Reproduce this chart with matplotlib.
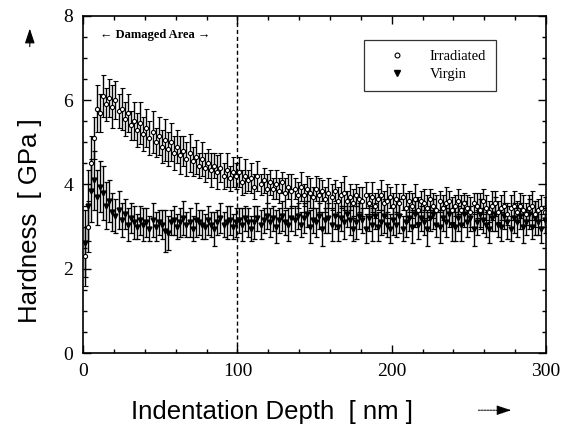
import matplotlib.pyplot as plt
import numpy as np
from matplotlib.lines import Line2D
from matplotlib.patches import FancyArrowPatch
from matplotlib.ticker import MultipleLocator

# indentation depth [nm], one point every 2 nm
depth = np.arange(1, 300, 2)

irradiated = [
    2.3, 3.0, 4.5, 5.1, 5.8, 5.7, 6.1, 5.9, 6.05, 5.85,
    6.0, 5.75, 5.8, 5.55, 5.7, 5.4, 5.5, 5.3, 5.45, 5.2,
    5.35, 5.1, 5.25, 5.0, 5.15, 4.9, 5.05, 4.85, 5.0, 4.75,
    4.9, 4.7, 4.8, 4.6, 4.75, 4.55, 4.65, 4.45, 4.6, 4.4,
    4.5, 4.35, 4.45, 4.3, 4.4, 4.2, 4.35, 4.15, 4.3, 4.2,
    4.3, 4.05, 4.2, 4.1, 4.15, 3.95, 4.2, 4.0, 4.1, 3.9,
    4.05, 3.9, 4.0, 3.85, 4.05, 3.8, 3.95, 3.85, 3.9, 3.75,
    3.95, 3.75, 3.9, 3.8, 3.7, 3.9, 3.75, 3.85, 3.65, 3.8,
    3.7, 3.85, 3.6, 3.75, 3.8, 3.6, 3.7, 3.55, 3.75, 3.65,
    3.6, 3.75, 3.55, 3.7, 3.5, 3.65, 3.75, 3.55, 3.6, 3.7,
    3.5, 3.65, 3.55, 3.7, 3.45, 3.6, 3.5, 3.65, 3.4, 3.6,
    3.55, 3.45, 3.65, 3.5, 3.4, 3.6, 3.45, 3.55, 3.6, 3.4,
    3.5, 3.6, 3.4, 3.55, 3.45, 3.35, 3.55, 3.5, 3.4, 3.6,
    3.45, 3.35, 3.5, 3.55, 3.35, 3.45, 3.5, 3.3, 3.45, 3.5,
    3.35, 3.5, 3.4, 3.3, 3.45, 3.5, 3.3, 3.4, 3.45, 3.35,
]
irradiated_err = [
    0.7, 0.6, 0.65, 0.5, 0.55, 0.45, 0.5, 0.4, 0.45, 0.5,
    0.45, 0.4, 0.5, 0.4, 0.45, 0.35, 0.45, 0.4, 0.5, 0.4,
    0.45, 0.4, 0.5, 0.35, 0.45, 0.4, 0.5, 0.4, 0.45, 0.4,
    0.4, 0.45, 0.35, 0.4, 0.45, 0.35, 0.4, 0.3, 0.4, 0.35,
    0.35, 0.4, 0.3, 0.4, 0.35, 0.3, 0.4, 0.3, 0.35, 0.3,
    0.35, 0.3, 0.4, 0.25, 0.35, 0.3, 0.35, 0.25, 0.3, 0.35,
    0.3, 0.25, 0.35, 0.3, 0.25, 0.35, 0.3, 0.4, 0.25, 0.3,
    0.35, 0.25, 0.3, 0.35, 0.25, 0.3, 0.4, 0.25, 0.3, 0.35,
    0.3, 0.25, 0.35, 0.3, 0.4, 0.25, 0.3, 0.35, 0.25, 0.3,
    0.35, 0.3, 0.25, 0.35, 0.3, 0.25, 0.35, 0.3, 0.4, 0.25,
    0.3, 0.35, 0.25, 0.3, 0.35, 0.25, 0.3, 0.35, 0.3, 0.25,
    0.35, 0.3, 0.25, 0.3, 0.35, 0.25, 0.3, 0.4, 0.25, 0.3,
    0.25, 0.3, 0.35, 0.25, 0.3, 0.35, 0.25, 0.3, 0.4, 0.3,
    0.3, 0.25, 0.35, 0.3, 0.25, 0.3, 0.35, 0.25, 0.3, 0.35,
    0.25, 0.3, 0.35, 0.25, 0.3, 0.35, 0.3, 0.25, 0.3, 0.35,
]

virgin = [
    2.6, 3.5, 3.85, 4.1, 3.7, 3.95, 3.8, 3.5, 3.6, 3.35,
    3.25, 3.4, 3.15, 3.3, 3.05, 3.2, 3.1, 3.0, 3.15, 3.05,
    3.1, 2.95, 3.15, 3.0, 3.1, 3.05, 2.9, 2.85, 3.1, 3.15,
    3.0, 3.1, 3.2, 3.05, 3.1, 2.95, 3.15, 3.1, 3.05, 3.0,
    3.15, 3.05, 2.95, 3.1, 3.2, 3.05, 3.1, 3.15, 3.0, 3.1,
    3.15, 3.05, 3.2, 3.1, 2.95, 3.1, 3.2, 3.05, 3.15, 3.25,
    3.1, 3.2, 3.0, 3.15, 3.25, 3.1, 3.05, 3.2, 3.15, 3.25,
    3.05, 3.2, 3.3, 3.0, 3.15, 3.1, 3.25, 2.95, 3.15, 3.2,
    3.05, 3.25, 3.0, 3.2, 3.1, 3.3, 3.15, 2.95, 3.1, 3.25,
    3.15, 2.95, 3.2, 3.05, 3.25, 3.0, 3.1, 3.25, 3.05, 2.95,
    3.15, 3.05, 3.25, 2.95, 3.1, 3.2, 3.0, 3.3, 3.05, 3.2,
    3.1, 2.95, 3.2, 3.3, 3.05, 3.0, 3.2, 3.1, 3.3, 3.05,
    3.0, 3.2, 3.05, 3.3, 3.1, 3.2, 2.95, 3.1, 3.3, 3.15,
    3.05, 2.95, 3.2, 3.3, 3.05, 3.0, 3.25, 3.1, 2.95, 3.2,
    3.1, 3.25, 3.0, 3.1, 3.3, 3.0, 3.2, 3.1, 2.95, 3.15,
]
virgin_err = [
    0.8, 0.85, 0.75, 0.7, 0.65, 0.6, 0.65, 0.55, 0.5, 0.45,
    0.4, 0.45, 0.4, 0.35, 0.4, 0.35, 0.4, 0.3, 0.35, 0.4,
    0.35, 0.3, 0.4, 0.35, 0.3, 0.35, 0.5, 0.4, 0.3, 0.35,
    0.3, 0.35, 0.4, 0.3, 0.35, 0.3, 0.4, 0.3, 0.35, 0.3,
    0.35, 0.3, 0.4, 0.3, 0.35, 0.3, 0.4, 0.35, 0.3, 0.35,
    0.3, 0.4, 0.3, 0.35, 0.3, 0.4, 0.3, 0.35, 0.3, 0.3,
    0.35, 0.3, 0.4, 0.3, 0.35, 0.3, 0.4, 0.3, 0.35, 0.3,
    0.3, 0.35, 0.3, 0.4, 0.3, 0.35, 0.3, 0.4, 0.3, 0.35,
    0.4, 0.3, 0.35, 0.3, 0.4, 0.3, 0.35, 0.3, 0.4, 0.3,
    0.3, 0.35, 0.3, 0.4, 0.3, 0.35, 0.3, 0.4, 0.3, 0.35,
    0.35, 0.3, 0.4, 0.3, 0.35, 0.3, 0.4, 0.3, 0.35, 0.3,
    0.3, 0.4, 0.3, 0.35, 0.3, 0.4, 0.3, 0.35, 0.3, 0.4,
    0.35, 0.3, 0.4, 0.3, 0.35, 0.3, 0.4, 0.3, 0.35, 0.3,
    0.3, 0.35, 0.3, 0.4, 0.3, 0.35, 0.3, 0.4, 0.3, 0.35,
    0.35, 0.3, 0.4, 0.3, 0.35, 0.3, 0.4, 0.3, 0.35, 0.3,
]

damaged_depth = 100

serif = 'Liberation Serif'
sans = 'Liberation Sans'

fig = plt.figure(figsize=(5.73, 4.30), dpi=100)
ax = fig.add_axes([0.145, 0.179, 0.808, 0.784])

ax.errorbar(depth, virgin, yerr=virgin_err, fmt='v', color='black', ms=3.5,
            mfc='black', capsize=1.8, elinewidth=1.0, capthick=0.9)
ax.errorbar(depth, irradiated, yerr=irradiated_err, fmt='o', color='black', ms=3,
            mfc='white', mew=0.8, capsize=1.8, elinewidth=1.0, capthick=0.9)

ax.axvline(damaged_depth, color='black', ls=(0, (3, 2)), lw=1)
ax.text(11, 7.55, '\u2190 Damaged Area \u2192', fontsize=9, fontweight='bold',
        family=serif, va='center')

ax.set_xlim(0, 300)
ax.set_ylim(0, 8)
ax.xaxis.set_major_locator(MultipleLocator(100))
ax.xaxis.set_minor_locator(MultipleLocator(20))
ax.yaxis.set_major_locator(MultipleLocator(2))
ax.yaxis.set_minor_locator(MultipleLocator(0.5))
ax.tick_params(which='both', direction='in', top=True, right=True, width=1)
ax.tick_params(which='major', length=6, labelsize=14, pad=7)
ax.tick_params(which='minor', length=3)
for lbl in ax.get_xticklabels() + ax.get_yticklabels():
    lbl.set_family(serif)
for sp in ax.spines.values():
    sp.set_linewidth(1.2)

handles = [
    Line2D([], [], ls='none', marker='o', ms=3.5, mfc='white', mec='black', mew=0.8),
    Line2D([], [], ls='none', marker='v', ms=4, mfc='black', mec='black'),
]
leg = ax.legend(handles, ['Irradiated', 'Virgin'], loc='upper right',
                bbox_to_anchor=(0.892, 0.929), prop={'family': serif, 'size': 10.5},
                frameon=True, fancybox=False, edgecolor='black',
                handlelength=3.1, handletextpad=0.7, borderpad=0.7,
                labelspacing=0.3, borderaxespad=0)
leg.get_frame().set_linewidth(0.9)

fig.text(0.475, 0.042, 'Indentation Depth  [ nm ]', family=sans, fontsize=18.5,
         ha='center', va='center')
fig.text(0.052, 0.486, 'Hardness  [ GPa ]', family=sans, fontsize=18.5,
         rotation=90, ha='center', va='center')

# direction arrows next to the axis labels
fig.add_artist(FancyArrowPatch(
    (0.83, 0.046), (0.897, 0.046), transform=fig.transFigure,
    arrowstyle='-|>,head_length=9,head_width=3', mutation_scale=1,
    color='black', lw=0.7, ls=(0, (2, 1))))
fig.add_artist(FancyArrowPatch(
    (0.052, 0.885), (0.052, 0.94), transform=fig.transFigure,
    arrowstyle='-|>,head_length=9,head_width=3', mutation_scale=1,
    color='black', lw=0.8))

fig.savefig('out.png', dpi=100)
